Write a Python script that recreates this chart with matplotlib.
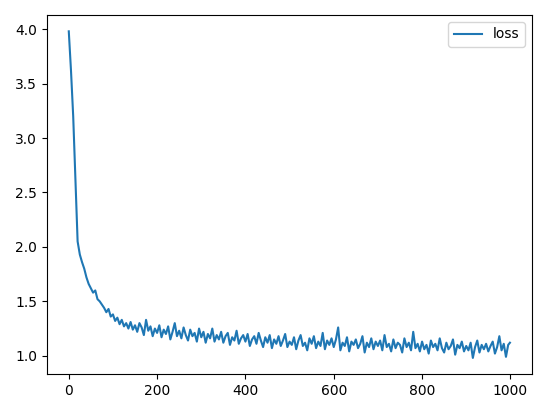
import matplotlib
matplotlib.use("Agg")
import matplotlib.pyplot as plt

# loss values, one every 5 steps (plus the final step)
steps = list(range(0, 1000, 5)) + [999]
loss = [
    3.98, 3.62, 3.20, 2.62, 2.05, 1.93, 1.86, 1.80, 1.72, 1.66,
    1.62, 1.58, 1.60, 1.52, 1.50, 1.47, 1.44, 1.40, 1.43, 1.36,
    1.38, 1.32, 1.35, 1.29, 1.33, 1.27, 1.30, 1.25, 1.31, 1.24,
    1.28, 1.22, 1.30, 1.26, 1.19, 1.33, 1.23, 1.27, 1.18, 1.25,
    1.21, 1.28, 1.17, 1.24, 1.20, 1.27, 1.15, 1.22, 1.30, 1.18,
    1.23, 1.16, 1.26, 1.19, 1.14, 1.24, 1.18, 1.21, 1.13, 1.25,
    1.17, 1.22, 1.12, 1.20, 1.16, 1.25, 1.13, 1.19, 1.15, 1.22,
    1.12, 1.18, 1.21, 1.10, 1.17, 1.14, 1.23, 1.11, 1.16, 1.19,
    1.13, 1.20, 1.09, 1.15, 1.18, 1.11, 1.21, 1.14, 1.08, 1.17,
    1.12, 1.19, 1.07, 1.15, 1.11, 1.18, 1.09, 1.14, 1.20, 1.08,
    1.13, 1.10, 1.17, 1.06, 1.14, 1.19, 1.09, 1.12, 1.05, 1.16,
    1.11, 1.18, 1.07, 1.13, 1.09, 1.21, 1.06, 1.14, 1.10, 1.16,
    1.08, 1.15, 1.26, 1.05, 1.12, 1.09, 1.17, 1.04, 1.13, 1.10,
    1.15, 1.07, 1.11, 1.18, 1.03, 1.12, 1.08, 1.16, 1.06, 1.13,
    1.09, 1.14, 1.05, 1.19, 1.08, 1.11, 1.04, 1.15, 1.07, 1.12,
    1.10, 1.03, 1.16, 1.08, 1.12, 1.05, 1.22, 1.07, 1.11, 1.04,
    1.13, 1.06, 1.10, 1.02, 1.14, 1.08, 1.11, 1.05, 1.16, 1.07,
    1.03, 1.12, 1.06, 1.09, 1.15, 1.01, 1.10, 1.07, 1.13, 1.04,
    1.09, 1.05, 1.12, 0.98, 1.08, 1.14, 1.03, 1.10, 1.06, 1.11,
    1.04, 1.09, 1.13, 1.02, 1.08, 1.18, 1.05, 1.11, 0.99, 1.10,
    1.12,
]

fig, ax = plt.subplots(figsize=(5.47, 4.13), dpi=100)
ax.plot(steps, loss, color="#1f77b4", label="loss")
ax.legend(loc="upper right")
plt.tight_layout()
plt.savefig("out.png", dpi=100)
